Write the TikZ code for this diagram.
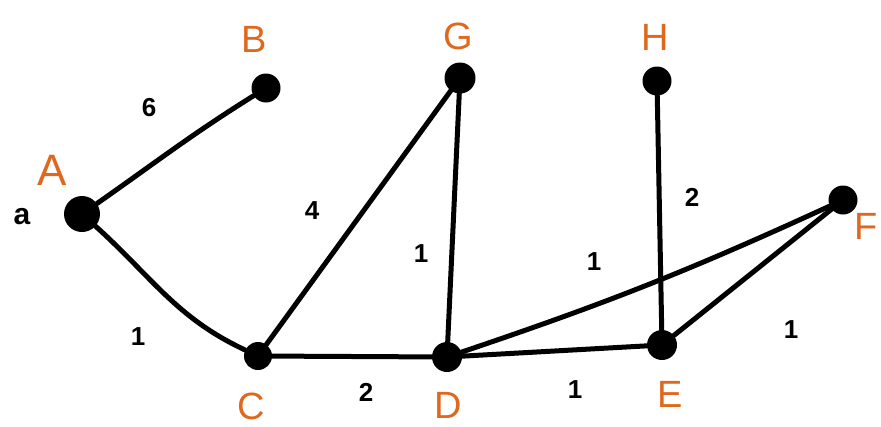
\documentclass[tikz,border=0pt]{standalone}
\usepackage{fontspec}
\setmainfont{Liberation Sans}
\definecolor{lblorange}{RGB}{222,104,30}
\tikzset{
  vtx/.style={circle, fill=black, inner sep=0pt, minimum size=#1},
  vtx/.default=29pt,
  edge/.style={line width=5pt, line cap=round, black},
  vname/.style={text=lblorange, font=\fontsize{38}{38}\selectfont, inner sep=0pt},
  wlabel/.style={text=black, font=\bfseries\fontsize{26}{26}\selectfont, inner sep=0pt},
}
\begin{document}
\begin{tikzpicture}[x=1pt,y=-1pt]
\useasboundingbox (0,0) rectangle (881,426);
% vertices
\node[vtx=36pt] (A) at (82,214) {};
\node[vtx] (B) at (266,88) {};
\node[vtx=31pt] (G) at (460,78) {};
\node[vtx] (H) at (657,81) {};
\node[vtx] (F) at (843,200) {};
\node[vtx=28pt] (C) at (258,356) {};
\node[vtx=30pt] (D) at (447,357) {};
\node[vtx=30pt] (E) at (662,345) {};
% edges
\draw[edge] (A) to[out=35,in=-148] (B);
\draw[edge] (A) to[out=-42,in=155] (C);
\draw[edge] (C) -- (G);
\draw[edge] (G) -- (D);
\draw[edge] (C) -- (D);
\draw[edge] (D) -- (E);
\draw[edge] (D) to[bend right=3] (F);
\draw[edge] (H) -- (E);
\draw[edge] (E) -- (F);
% vertex names
\node[font=\bfseries\fontsize{30}{30}\selectfont, inner sep=0pt] (la) at (22,217) {a};
\node[vname, font=\fontsize{44}{44}\selectfont] (lA) at (52,170) {A};
\node[vname] (lB) at (254,39) {B};
\node[vname] (lG) at (458,36) {G};
\node[vname] (lH) at (655,37) {H};
\node[vname] (lF) at (866,226) {F};
\node[vname] (lC) at (251,406) {C};
\node[vname] (lD) at (448,405) {D};
\node[vname] (lE) at (670,394) {E};
% weights
\node[wlabel] (w6) at (149,108) {6};
\node[wlabel] (w1ac) at (138,337) {1};
\node[wlabel] (w4) at (312,211) {4};
\node[wlabel] (w1gd) at (421,254) {1};
\node[wlabel] (w2cd) at (366,392) {2};
\node[wlabel] (w1de) at (575,390) {1};
\node[wlabel] (w1df) at (594,262) {1};
\node[wlabel] (w2he) at (692,197) {2};
\node[wlabel] (w1ef) at (791,330) {1};
\end{tikzpicture}
\end{document}
